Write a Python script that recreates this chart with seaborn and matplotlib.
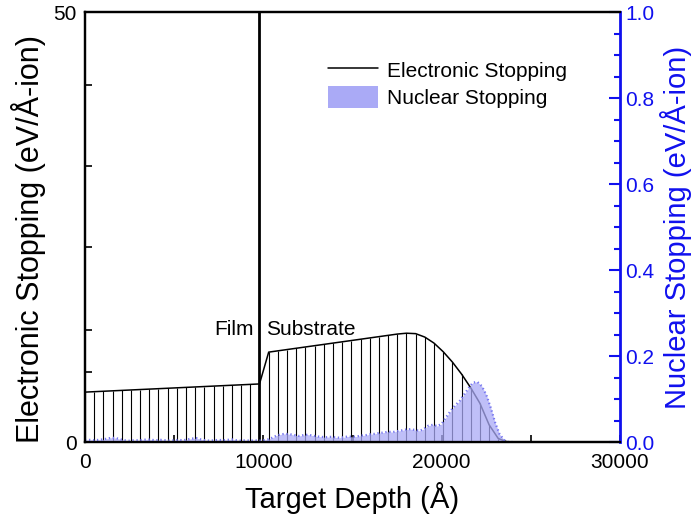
import numpy as np
import pandas as pd
import matplotlib
matplotlib.use("Agg")
import matplotlib.pyplot as plt
import seaborn as sns
from matplotlib.lines import Line2D
from matplotlib.patches import Patch
from matplotlib.ticker import MultipleLocator, FixedLocator, FormatStrFormatter

# ---------------- data ----------------
elec_depth = [0, 515, 1030, 1545, 2060, 2575, 3090, 3605, 4120, 4635,
              5150, 5665, 6180, 6695, 7210, 7725, 8240, 8755, 9270, 9785,
              10300, 10815, 11330, 11845, 12360, 12875, 13390, 13905, 14420, 14935,
              15450, 15965, 16480, 16995, 17510, 18025, 18540, 19055, 19570, 20085,
              20600, 21115, 21630, 22145, 22660, 23175, 23690, 30000]
elec_value = [5.80, 5.85, 5.90, 5.95, 6.00, 6.05, 6.10, 6.15, 6.20, 6.25,
              6.30, 6.35, 6.40, 6.45, 6.50, 6.55, 6.60, 6.65, 6.70, 6.75,
              10.45, 10.60, 10.75, 10.90, 11.05, 11.20, 11.35, 11.50, 11.65, 11.80,
              11.95, 12.10, 12.25, 12.40, 12.55, 12.65, 12.60, 12.20, 11.50, 10.50,
              9.30, 7.90, 6.30, 4.50, 2.00, 0.40, 0.00, 0.00]

nuc_depth = [0, 250, 500, 750, 1000, 1250, 1500, 1750, 2000, 2250,
             2500, 2750, 3000, 3250, 3500, 3750, 4000, 4250, 4500, 4750,
             5000, 5250, 5500, 5750, 6000, 6250, 6500, 6750, 7000, 7250,
             7500, 7750, 8000, 8250, 8500, 8750, 9000, 9250, 9500, 9750,
             10000, 10250, 10500, 10750, 11000, 11250, 11500, 11750, 12000, 12250,
             12500, 12750, 13000, 13250, 13500, 13750, 14000, 14250, 14500, 14750,
             15000, 15250, 15500, 15750, 16000, 16250, 16500, 16750, 17000, 17250,
             17500, 17750, 18000, 18250, 18500, 18750, 19000, 19250, 19500, 19750,
             20000, 20250, 20500, 20750, 21000, 21250, 21500, 21750, 22000, 22250,
             22500, 22750, 23000, 23250, 23500, 23750, 24000]
nuc_value = [0.004, 0.005, 0.004, 0.005, 0.006, 0.008, 0.010, 0.009, 0.006, 0.004,
             0.003, 0.004, 0.004, 0.005, 0.006, 0.005, 0.004, 0.005, 0.004, 0.003,
             0.004, 0.005, 0.004, 0.006, 0.008, 0.009, 0.006, 0.004, 0.003, 0.004,
             0.005, 0.004, 0.005, 0.006, 0.004, 0.003, 0.004, 0.003, 0.004, 0.003,
             0.004, 0.006, 0.010, 0.015, 0.018, 0.019, 0.018, 0.016, 0.014, 0.016,
             0.017, 0.015, 0.013, 0.012, 0.011, 0.012, 0.011, 0.010, 0.011, 0.013,
             0.012, 0.013, 0.015, 0.016, 0.018, 0.019, 0.021, 0.022, 0.024, 0.023,
             0.025, 0.027, 0.029, 0.030, 0.028, 0.026, 0.030, 0.038, 0.040, 0.037,
             0.042, 0.058, 0.072, 0.085, 0.095, 0.110, 0.125, 0.138, 0.140, 0.130,
             0.110, 0.080, 0.045, 0.018, 0.005, 0.000, 0.000]

boundary = 9785
x_ticks = [0, 10000, 20000, 30000]
left_ticks = [0, 50]
left_minor = [8.1, 13.0, 22.7, 32.1, 41.5]
right_ticks = [0.0, 0.2, 0.4, 0.6, 0.8, 1.0]

elec_df = pd.DataFrame({"depth": elec_depth, "value": elec_value})
nuc_df = pd.DataFrame({"depth": nuc_depth, "value": nuc_value})

# ---------------- style ----------------
sns.set_theme(style="white")
plt.rcParams["font.family"] = ["Liberation Sans", "DejaVu Sans"]
plt.rcParams["axes.linewidth"] = 1.6
for k in ["text.color", "axes.labelcolor", "xtick.color", "ytick.color", "axes.edgecolor"]:
    plt.rcParams[k] = "black"

BLUE = "#1010ee"
FILL = "#aaaaf6"

fig = plt.figure(figsize=(6.97, 5.23), dpi=100)
ax = fig.add_axes([85 / 697, 1 - 442 / 523, (620 - 85) / 697, (442 - 12) / 523])
ax2 = ax.twinx()

# electronic stopping: drop lines + curve
ax.vlines(elec_df["depth"], 0, elec_df["value"], colors="black", lw=0.8, zorder=2)
sns.lineplot(data=elec_df, x="depth", y="value", ax=ax, color="black", lw=1.1,
             zorder=3, legend=False)
ax.axvline(boundary, color="black", lw=2.0, zorder=4)

# nuclear stopping: filled area with dotted edge
ax2.fill_between(nuc_df["depth"], 0, nuc_df["value"], color=FILL, alpha=0.75,
                 lw=0, zorder=1)
sns.lineplot(data=nuc_df, x="depth", y="value", ax=ax2, color="#7777f0",
             lw=1.6, linestyle=(0, (0.6, 1.2)), legend=False, zorder=2)

ax.set_xlim(0, 30000)
ax.set_ylim(0, 50)
ax2.set_ylim(0, 1.0)

ax.xaxis.set_major_locator(FixedLocator(x_ticks))
ax.xaxis.set_minor_locator(MultipleLocator(5000))
ax.yaxis.set_major_locator(FixedLocator(left_ticks))
ax.yaxis.set_minor_locator(FixedLocator(left_minor))
ax2.yaxis.set_major_locator(FixedLocator(right_ticks))
ax2.yaxis.set_minor_locator(MultipleLocator(0.05))

ax.tick_params(axis="x", which="both", direction="in", length=5, width=1.2,
               labelsize=15, pad=8, top=False, bottom=True, colors="black")
ax.tick_params(axis="y", which="major", direction="in", length=0, labelsize=15, pad=6,
               left=True, colors="black")
ax.tick_params(axis="y", which="minor", direction="in", length=5, width=1.2, left=True,
               colors="black")
ax2.tick_params(axis="y", which="major", direction="in", length=8, width=1.5,
                colors=BLUE, labelsize=15, pad=4, right=True)
ax2.tick_params(axis="y", which="minor", direction="in", length=4, width=1.5,
                colors=BLUE, right=True)
ax2.yaxis.set_major_formatter(FormatStrFormatter("%.1f"))

for side in ["left", "top", "bottom"]:
    ax.spines[side].set_color("black")
    ax2.spines[side].set_color("black")
ax.spines["right"].set_visible(False)
ax2.spines["right"].set_color(BLUE)
ax2.spines["right"].set_linewidth(2.0)

ax.set_xlabel("Target Depth (Å)", fontsize=21, labelpad=7, color="black")
ax.set_ylabel("Electronic Stopping (eV/Å-ion)", fontsize=22, color="black")
ax.yaxis.set_label_coords(-0.073, 0.472)
ax2.set_ylabel("Nuclear Stopping (eV/Å-ion)", fontsize=21, color=BLUE, labelpad=4)

ax.text(9450, 13.1, "Film", fontsize=15, ha="right", va="center", zorder=5)
ax.text(10150, 13.1, "Substrate", fontsize=15, ha="left", va="center", zorder=5)

handles = [Line2D([0], [0], color="black", lw=1.1),
           Patch(facecolor=FILL, edgecolor="none")]
leg = ax.legend(handles, ["Electronic Stopping", "Nuclear Stopping"],
                loc="upper left", bbox_to_anchor=(0.454, 0.890), frameon=False,
                fontsize=15, handlelength=2.4, handleheight=1.2, handletextpad=0.43,
                labelspacing=0.25, borderaxespad=0, borderpad=0)
for t in leg.get_texts():
    t.set_color("black")
ax2.set_zorder(ax.get_zorder() + 1)
ax2.patch.set_visible(False)

fig.savefig("out.png", dpi=100)
